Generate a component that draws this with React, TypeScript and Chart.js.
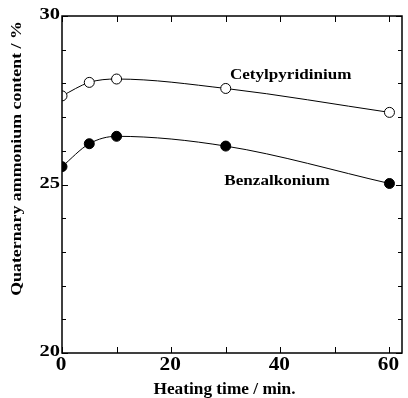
import React, { useEffect, useRef } from "react";
import { Chart, registerables } from "chart.js";

Chart.register(...registerables);

const times = [0, 5, 10, 30, 60];
const cetylpyridinium = [27.63, 28.03, 28.13, 27.85, 27.14];
const benzalkonium = [25.53, 26.21, 26.43, 26.14, 25.03];
const xTickValues = [0, 10, 20, 30, 40, 50, 60];
const xLabelValues = [0, 20, 40, 60];
const yTickValues = [20, 21, 22, 23, 24, 25, 26, 27, 28, 29, 30];
const yLabelValues = [20, 25, 30];
const seriesLabels = [
  { text: "Cetylpyridinium", x: 41.9, y: 28.24 },
  { text: "Benzalkonium", x: 39.4, y: 25.09 },
];
const xTitle = "Heating time / min.";
const yTitle = "Quaternary ammonium content / %";

const FONT = '"Liberation Serif", "Times New Roman", serif';

function stretchText(ctx: any, text: string, x: number, y: number, size: number, sx: number, align: string) {
  ctx.save();
  ctx.translate(x, y);
  ctx.scale(sx, 1);
  ctx.font = `bold ${size}px ${FONT}`;
  ctx.textAlign = align;
  ctx.textBaseline = "middle";
  ctx.fillText(text, 0, 0);
  ctx.restore();
}

const framePlugin = {
  id: "frame",
  afterDraw(chart: any) {
    const { ctx, chartArea: a, scales } = chart;
    const xs = scales.x;
    const ys = scales.y;
    ctx.save();
    ctx.strokeStyle = "#000";
    ctx.lineWidth = 1.5;
    ctx.strokeRect(a.left, a.top, a.right - a.left, a.bottom - a.top);
    ctx.lineWidth = 1;
    const tl = 6;
    for (const v of xTickValues) {
      const px = Math.round(xs.getPixelForValue(v)) + 0.5;
      ctx.beginPath();
      ctx.moveTo(px, a.bottom);
      ctx.lineTo(px, a.bottom - tl);
      ctx.moveTo(px, a.top);
      ctx.lineTo(px, a.top + tl);
      ctx.stroke();
    }
    for (const v of yTickValues) {
      const py = Math.round(ys.getPixelForValue(v)) + 0.5;
      const len = v % 5 === 0 ? 6 : 4;
      ctx.beginPath();
      ctx.moveTo(a.left, py);
      ctx.lineTo(a.left + len, py);
      ctx.moveTo(a.right, py);
      ctx.lineTo(a.right - len, py);
      ctx.stroke();
    }
    ctx.fillStyle = "#000";
    for (const v of xLabelValues) {
      stretchText(ctx, String(v), xs.getPixelForValue(v) - 1, a.bottom + 12, 19, 1.12, "center");
    }
    for (const v of yLabelValues) {
      stretchText(ctx, String(v), a.left - 2, ys.getPixelForValue(v) - 1, 16, 1.28, "right");
    }
    for (const l of seriesLabels) {
      stretchText(ctx, l.text, xs.getPixelForValue(l.x), ys.getPixelForValue(l.y), 14, 1.22, "center");
    }
    stretchText(ctx, xTitle, 224.5, 390, 16, 1.08, "center");
    ctx.save();
    ctx.translate(17, 158.5);
    ctx.rotate(-Math.PI / 2);
    stretchText(ctx, yTitle, 0, 0, 15, 1.19, "center");
    ctx.restore();
    ctx.restore();
  },
};

export default function App() {
  const ref = useRef<HTMLCanvasElement | null>(null);
  useEffect(() => {
    if (!ref.current) return;
    const chart = new Chart(ref.current, {
      type: "line",
      data: {
        datasets: [
          {
            label: "Cetylpyridinium",
            data: times.map((t, i) => ({ x: t, y: cetylpyridinium[i] })),
            borderColor: "#000",
            borderWidth: 1,
            backgroundColor: "#fff",
            pointBackgroundColor: "#fff",
            pointBorderColor: "#000",
            pointBorderWidth: 1,
            pointRadius: 5,
            cubicInterpolationMode: "monotone",
          },
          {
            label: "Benzalkonium",
            data: times.map((t, i) => ({ x: t, y: benzalkonium[i] })),
            borderColor: "#000",
            borderWidth: 1,
            backgroundColor: "#000",
            pointBackgroundColor: "#000",
            pointBorderColor: "#000",
            pointBorderWidth: 1,
            pointRadius: 5,
            cubicInterpolationMode: "monotone",
          },
        ],
      },
      options: {
        animation: false,
        responsive: false,
        maintainAspectRatio: false,
        layout: { padding: { top: 16, right: 1, left: 0, bottom: 0 } },
        plugins: { legend: { display: false }, tooltip: { enabled: false } },
        scales: {
          x: {
            type: "linear",
            min: 0,
            max: 62.3,
            grid: { display: false, drawTicks: false },
            border: { display: false },
            afterBuildTicks: (s: any) => {
              s.ticks = xTickValues.map((v) => ({ value: v }));
            },
            afterFit: (s: any) => {
              s.height = 45;
            },
            ticks: { display: false },
          },
          y: {
            type: "linear",
            min: 20,
            max: 30,
            grid: { display: false, drawTicks: false },
            border: { display: false },
            afterBuildTicks: (s: any) => {
              s.ticks = yTickValues.map((v) => ({ value: v }));
            },
            afterFit: (s: any) => {
              s.width = 62;
            },
            ticks: { display: false },
          },
        },
      },
      plugins: [framePlugin],
    } as any);
    return () => chart.destroy();
  }, []);
  return (
    <div style={{ position: "absolute", left: 0, top: 0, width: 408, height: 398, background: "#fff" }}>
      <canvas ref={ref} width={408} height={398} style={{ width: 408, height: 398 }} />
    </div>
  );
}
